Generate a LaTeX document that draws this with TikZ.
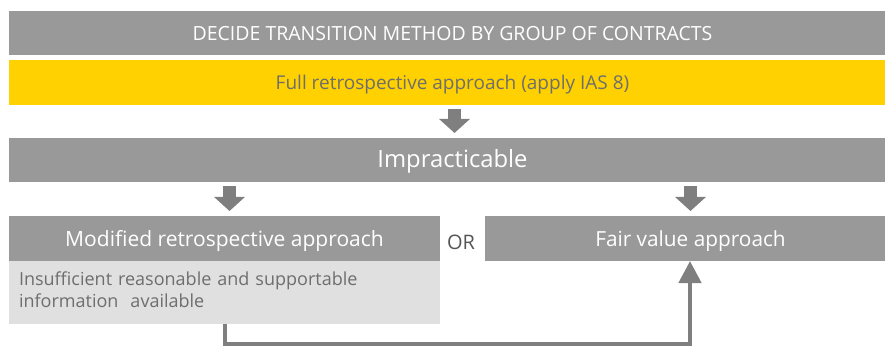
\documentclass[tikz,border=0pt]{standalone}
\usepackage{fontspec}
\setmainfont{Open Sans}
\usetikzlibrary{arrows.meta}
\definecolor{boxgray}{HTML}{999999}
\definecolor{arrgray}{HTML}{7F7F7F}
\definecolor{eyyellow}{HTML}{FFD100}
\definecolor{lightbox}{HTML}{E0E0E0}
\definecolor{txtgray}{HTML}{6E6E6E}
\definecolor{orgray}{HTML}{555555}
\tikzset{
  bar/.style={rectangle, inner sep=0pt, outer sep=0pt, anchor=north west},
  graybar/.style={bar, fill=boxgray, text=white},
  blockarrow/.style={draw=arrgray, line width=13pt, -{Triangle[length=14pt,width=30pt]}, shorten <=4pt, shorten >=5pt},
  conn/.style={draw=arrgray, line width=4.5pt, line join=miter, -{Triangle[length=22pt,width=22pt]}},
}
\begin{document}
\begin{tikzpicture}[x=1pt,y=-1pt]
\useasboundingbox (0,0) rectangle (885,347);
\node[graybar, minimum width=887pt, minimum height=44pt, text height=16pt, text depth=0pt, font=\fontsize{19.5}{23}\selectfont] (head) at (9,11) {DECIDE TRANSITION METHOD BY GROUP OF CONTRACTS};
\node[bar, fill=eyyellow, text=txtgray, minimum width=887pt, minimum height=45pt, text height=15pt, text depth=0pt, font=\fontsize{19}{22}\selectfont] (full) at (9,60) {Full retrospective approach (apply IAS 8)};
\node[graybar, minimum width=887pt, minimum height=44pt, text height=16pt, text depth=0pt, font=\fontsize{23.8}{28}\selectfont] (imp) at (9,138) {Impracticable};
\node[graybar, minimum width=431pt, minimum height=45pt, text height=16.4pt, text depth=0pt, font=\fontsize{21}{25}\selectfont] (mod) at (9,216) {Modified retrospective approach};
\node[bar, fill=lightbox, text=txtgray, minimum width=431pt, minimum height=63pt, text width=411pt, inner xsep=10pt, align=left, font=\fontsize{18}{22}\selectfont] (info) at (9,261) {Insufficient reasonable and supportable\\information\ \ available\rule[-5pt]{0pt}{5pt}};
\node[graybar, minimum width=411pt, minimum height=45pt, text height=16.4pt, text depth=0pt, font=\fontsize{20.8}{25}\selectfont] (fair) at (485,216) {Fair value approach};
\node[text=orgray, font=\fontsize{20}{24}\selectfont, inner sep=0pt, anchor=base] (or) at (461,249.3) {OR};
\coordinate (a1) at (454.5,0);
\coordinate (a2) at (229.5,0);
\coordinate (a3) at (690.5,0);
\coordinate (c1) at (225,0);
\coordinate (c2) at (690,0);
\coordinate (low) at (0,344);
\draw[blockarrow] (a1 |- full.south) -- (a1 |- imp.north);
\draw[blockarrow] (a2 |- imp.south) -- (a2 |- mod.north);
\draw[blockarrow] (a3 |- imp.south) -- (a3 |- fair.north);
\draw[conn] (c1 |- info.south) -- (c1 |- low) -- (c2 |- low) -- (c2 |- fair.south);
\end{tikzpicture}
\end{document}
